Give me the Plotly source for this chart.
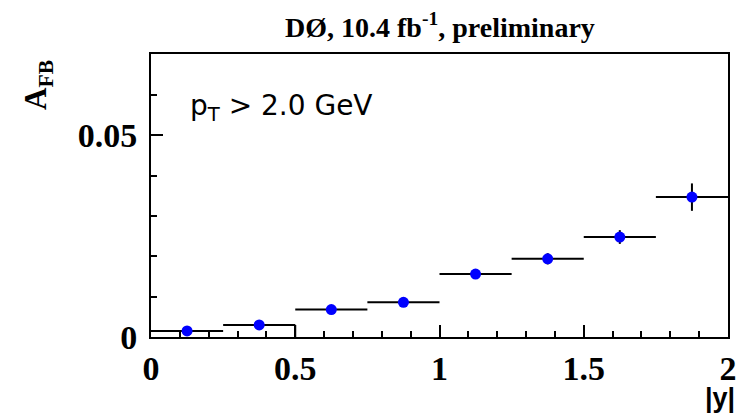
import plotly.graph_objects as go

# Bin centres and half-widths in |y|
y_centres = [0.125, 0.375, 0.625, 0.875, 1.125, 1.375, 1.625, 1.875]
bin_half = [0.125] * 8
# Forward-backward asymmetry and its uncertainty
afb = [0.0015, 0.0030, 0.0068, 0.0086, 0.0156, 0.0194, 0.0248, 0.0347]
afb_err = [0.0008, 0.0009, 0.0010, 0.0010, 0.0011, 0.0014, 0.0017, 0.0034]

x_ticks = [0, 0.5, 1, 1.5, 2]
x_ticklabels = ["0", "0.5", "1", "1.5", "2"]
y_ticks = [0, 0.05]
y_ticklabels = ["0", "0.05"]

serif = "Liberation Serif"

fig = go.Figure()

# histogram edge closing the second bin down to zero
fig.add_trace(go.Scatter(
    x=[y_centres[1] + bin_half[1]] * 2, y=[0, afb[1]],
    mode="lines", line=dict(color="black", width=2),
    hoverinfo="skip", showlegend=False,
))

fig.add_trace(go.Scatter(
    x=y_centres, y=afb, mode="markers",
    marker=dict(color="#0000ff", size=11, symbol="circle"),
    error_x=dict(type="data", array=bin_half, color="black", thickness=2, width=0),
    error_y=dict(type="data", array=afb_err, color="black", thickness=2, width=0),
    showlegend=False,
))

fig.update_layout(
    width=748, height=416,
    margin=dict(l=151, r=11, t=54, b=79),
    paper_bgcolor="white", plot_bgcolor="white",
    showlegend=False,
)

fig.update_xaxes(
    range=[0, 2], tickmode="array", tickvals=x_ticks, ticktext=x_ticklabels,
    ticks="inside", ticklen=12, tickwidth=1.5, tickcolor="black",
    minor=dict(dtick=0.1, ticks="inside", ticklen=6, tickwidth=1.5, tickcolor="black"),
    showline=True, linecolor="black", linewidth=2, mirror=True,
    showgrid=False, zeroline=False,
    tickfont=dict(family=serif, size=34, color="black", weight="bold"),
    ticklabelstandoff=0,
)
fig.update_yaxes(
    range=[0, 0.0702], tickmode="array", tickvals=y_ticks, ticktext=y_ticklabels,
    ticks="inside", ticklen=12, tickwidth=1.5, tickcolor="black",
    minor=dict(dtick=0.01, ticks="inside", ticklen=6, tickwidth=1.5, tickcolor="black"),
    showline=True, linecolor="black", linewidth=2, mirror=True,
    showgrid=False, zeroline=False,
    tickfont=dict(family=serif, size=34, color="black", weight="bold"),
    ticklabelstandoff=5,
)

fig.add_annotation(
    text="<b>DØ, 10.4 fb<sup>-1</sup>, preliminary</b>",
    xref="paper", yref="paper", x=0.5, y=1, yshift=9,
    xanchor="center", yanchor="bottom", showarrow=False,
    font=dict(family=serif, size=28, color="black"),
)
fig.add_annotation(
    text="<b>A<sub>FB</sub></b>",
    xref="paper", yref="paper", x=0, xshift=-113, y=1, yshift=-31,
    xanchor="center", yanchor="middle", textangle=-90, showarrow=False,
    font=dict(family=serif, size=31, color="black"),
)
fig.add_annotation(
    text="<b>|y|</b>",
    xref="paper", yref="paper", x=1, xshift=9, y=0, yshift=-61,
    xanchor="right", yanchor="middle", showarrow=False,
    font=dict(family="Liberation Sans", size=27, color="black"),
)
fig.add_annotation(
    text="p<sub>T</sub> > 2.0 GeV",
    xref="paper", yref="paper", x=0, xshift=37, y=1, yshift=-53,
    xanchor="left", yanchor="middle", showarrow=False,
    font=dict(family="DejaVu Sans", size=28, color="black"),
)

fig.write_html("out.html")
